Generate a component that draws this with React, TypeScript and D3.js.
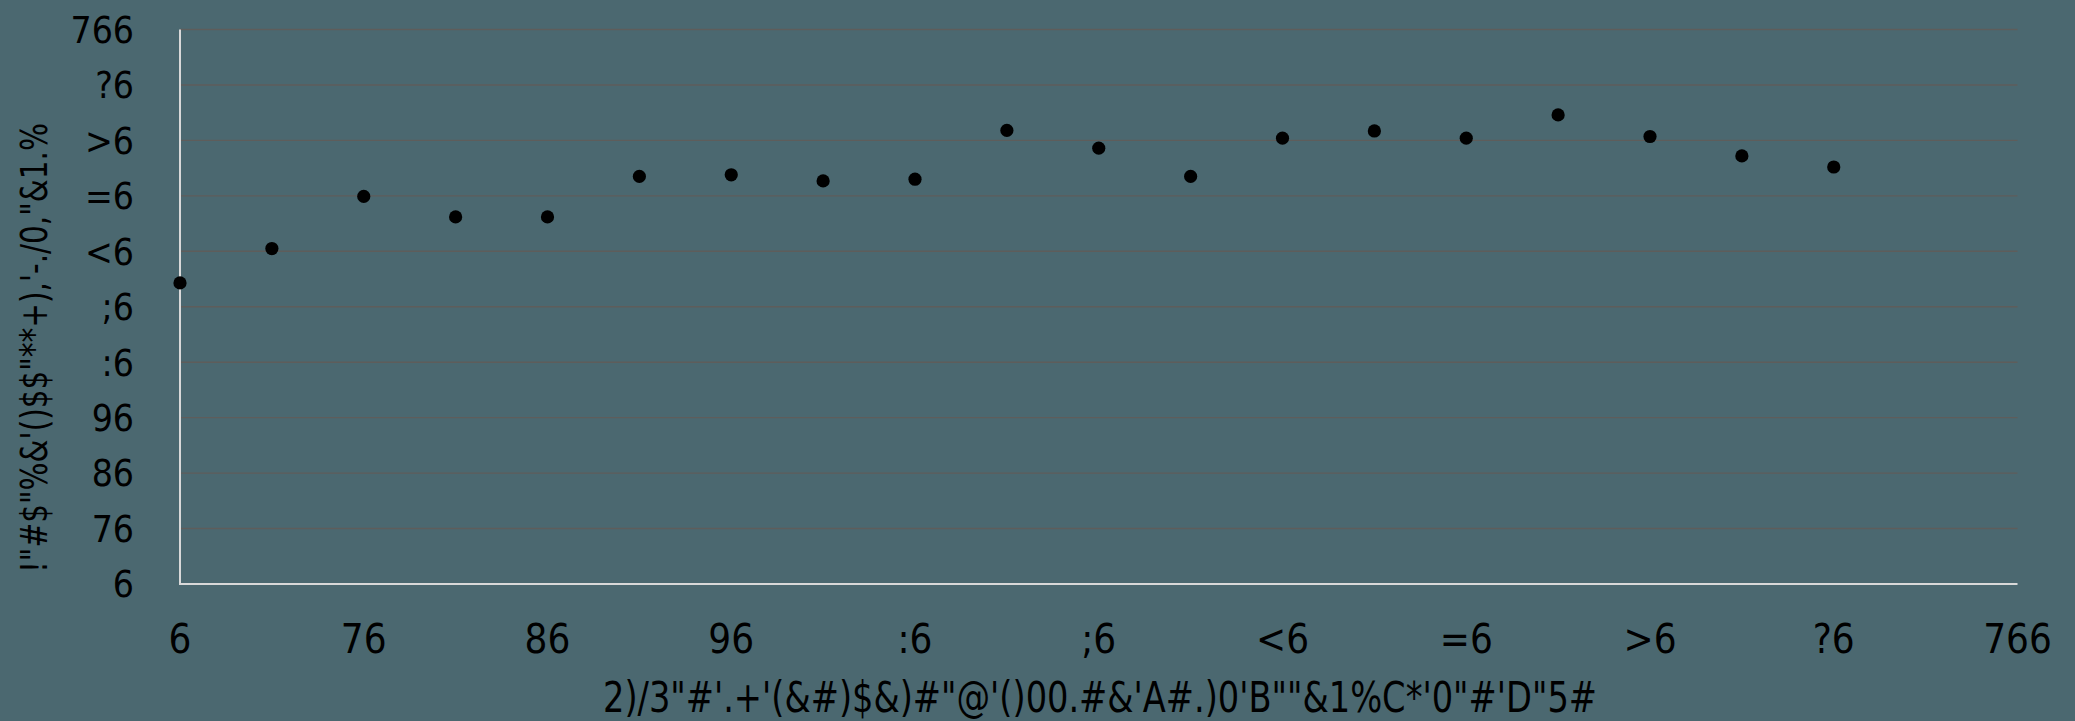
import React from "react";
import * as d3 from "d3";

const W = 2075;
const H = 721;

// x values of the points
const xValues = [0, 5, 10, 15, 20, 25, 30, 35, 40, 45, 50, 55, 60, 65, 70, 75, 80, 85, 90];
// y values of the points
const yValues = [54.3, 60.5, 69.9, 66.2, 66.2, 73.5, 73.8, 72.7, 73.0, 81.8, 78.6, 73.5, 80.4, 81.7, 80.4, 84.6, 80.7, 77.2, 75.2];

const tickValues = [0, 10, 20, 30, 40, 50, 60, 70, 80, 90, 100];
const tickLabels = ["6", "76", "86", "96", ":6", ";6", "<6", "=6", ">6", "?6", "766"];

const xTitle = "2)/3\"#'.+'(&#)$&)#\"@'()00.#&'A#.)0'B\"\"&1%C*'0\"#'D\"5#";
const yTitle = "!\"#$\"%&'()$$\"**+),'-./0,\"&1.%";

const FONT = "'Liberation Sans Narrow', 'DejaVu Sans Condensed', 'Roboto Condensed', 'Liberation Sans', sans-serif";

export default function App() {
  const left = 180;
  const right = 2017.5;
  const top = 29.5;
  const bottom = 584;

  const x = d3.scaleLinear().domain([0, 100]).range([left, right]);
  const y = d3.scaleLinear().domain([0, 100]).range([bottom, top]);

  return (
    <svg
      width={W}
      height={H}
      style={{ position: "absolute", left: 0, top: 0, display: "block" }}
      fontFamily={FONT}
    >
      <rect x={0} y={0} width={W} height={H} fill="#4b6870" />
      {tickValues.slice(1).map((t) => (
        <line
          key={"g" + t}
          x1={x(0)}
          x2={x(100)}
          y1={y(t)}
          y2={y(t)}
          stroke="#5e5d5b"
          strokeWidth={1.4}
        />
      ))}
      <line x1={x(0)} x2={x(0)} y1={y(100)} y2={y(0)} stroke="#d9d9d9" strokeWidth={2} />
      <line x1={x(0) - 1} x2={x(100)} y1={y(0)} y2={y(0)} stroke="#d9d9d9" strokeWidth={2} />
      {tickValues.map((t, i) => (
        <text
          key={"yt" + t}
          x={134}
          y={y(t)}
          dy="0.36em"
          textAnchor="end"
          fontSize={37}
          fill="#000"
        >
          {tickLabels[i]}
        </text>
      ))}
      {tickValues.map((t, i) => (
        <text
          key={"xt" + t}
          x={x(t)}
          y={652.5}
          textAnchor="middle"
          fontSize={40}
          fill="#000"
        >
          {tickLabels[i]}
        </text>
      ))}
      {xValues.map((xv, i) => (
        <circle key={"p" + i} cx={x(xv)} cy={y(yValues[i])} r={6.6} fill="#000" />
      ))}
      <text
        x={1100}
        y={711.5}
        textAnchor="middle"
        fontSize={42}
        fill="#000"
        textLength={994}
        lengthAdjust="spacingAndGlyphs"
      >
        {xTitle}
      </text>
      <text
        transform={`translate(47,348) rotate(-90)`}
        textAnchor="middle"
        fontSize={38}
        fill="#000"
        textLength={450}
        lengthAdjust="spacingAndGlyphs"
      >
        {yTitle}
      </text>
    </svg>
  );
}
